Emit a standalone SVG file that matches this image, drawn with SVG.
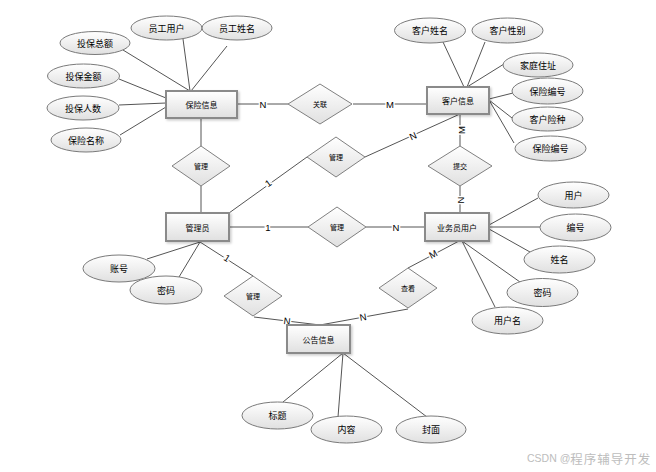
<svg xmlns="http://www.w3.org/2000/svg" width="656" height="472" viewBox="0 0 656 472">
<defs>
<linearGradient id="g" x1="0" y1="0" x2="0" y2="1">
<stop offset="0" stop-color="#ffffff"/>
<stop offset="1" stop-color="#e0e0e0"/>
</linearGradient>
<filter id="sh" x="-20%" y="-20%" width="150%" height="160%">
<feDropShadow dx="1.5" dy="1.5" stdDeviation="1" flood-color="#000" flood-opacity="0.2"/>
</filter>
<style>
.ent{fill:url(#g);stroke:#8a8a8a;stroke-width:2;filter:url(#sh)}
.rel{fill:url(#g);stroke:#808080;stroke-width:1}
.att{fill:url(#g);stroke:#7a7a7a;stroke-width:1}
.ln{stroke:#555;stroke-width:1;fill:none}
text{font-family:"Noto Sans CJK SC","Liberation Sans",sans-serif;fill:#000;text-anchor:middle;dominant-baseline:central}
.te{font-size:8px}
.tr{font-size:7px}
.ta{font-size:9px}
.card{font-family:"Liberation Sans",sans-serif;font-size:9.5px;stroke:#fff;stroke-width:3;paint-order:stroke}
.wm{fill:#bdbdbd;text-anchor:start}
</style>
</defs>
<rect width="656" height="472" fill="#fff"/>
<g id="connectors">
<line class="ln" x1="123" y1="50" x2="190" y2="91"/>
<line class="ln" x1="183" y1="39" x2="190" y2="91"/>
<line class="ln" x1="227" y1="46" x2="191" y2="91"/>
<line class="ln" x1="119" y1="79" x2="166" y2="98"/>
<line class="ln" x1="119" y1="105" x2="166" y2="103"/>
<line class="ln" x1="120" y1="135" x2="166" y2="107"/>
<line class="ln" x1="237" y1="104" x2="288" y2="104"/>
<line class="ln" x1="353" y1="104" x2="427" y2="104"/>
<line class="ln" x1="201" y1="118" x2="201" y2="146"/>
<line class="ln" x1="201" y1="186" x2="201" y2="213"/>
<line class="ln" x1="229" y1="213" x2="307" y2="157"/>
<line class="ln" x1="365" y1="157" x2="460" y2="114"/>
<line class="ln" x1="460" y1="114" x2="460" y2="146"/>
<line class="ln" x1="460" y1="186" x2="460" y2="213"/>
<line class="ln" x1="229" y1="227" x2="308" y2="227"/>
<line class="ln" x1="366" y1="227" x2="425" y2="227"/>
<line class="ln" x1="459" y1="241" x2="408" y2="268"/>
<line class="ln" x1="408" y1="309" x2="320" y2="325"/>
<line class="ln" x1="200" y1="242" x2="253" y2="276"/>
<line class="ln" x1="254" y1="317" x2="320" y2="325"/>
<line class="ln" x1="147" y1="259" x2="200" y2="242"/>
<line class="ln" x1="179" y1="277" x2="200" y2="242"/>
<line class="ln" x1="489" y1="225" x2="538" y2="198"/>
<line class="ln" x1="489" y1="227" x2="540" y2="227"/>
<line class="ln" x1="489" y1="229" x2="530" y2="252"/>
<line class="ln" x1="462" y1="241" x2="520" y2="282"/>
<line class="ln" x1="462" y1="241" x2="495" y2="307"/>
<line class="ln" x1="443" y1="42" x2="464" y2="87"/>
<line class="ln" x1="485" y1="42" x2="467" y2="87"/>
<line class="ln" x1="504" y1="64" x2="467" y2="87"/>
<line class="ln" x1="513" y1="93" x2="489" y2="99"/>
<line class="ln" x1="512" y1="118" x2="489" y2="100"/>
<line class="ln" x1="514" y1="143" x2="489" y2="100"/>
<line class="ln" x1="343" y1="353" x2="283" y2="402"/>
<line class="ln" x1="343" y1="353" x2="338" y2="417"/>
<line class="ln" x1="343" y1="353" x2="427" y2="417"/>
<text class="card" x="263" y="104">N</text>
<text class="card" x="390" y="104">M</text>
<text class="card" transform="translate(268,183) rotate(-36)">1</text>
<text class="card" transform="translate(413,136) rotate(-24)">N</text>
<text class="card" transform="translate(461,130) rotate(-90)">M</text>
<text class="card" transform="translate(460,200) rotate(-90)">N</text>
<text class="card" x="268" y="227">1</text>
<text class="card" x="396" y="227">N</text>
<text class="card" transform="translate(433,254) rotate(-28)">M</text>
<text class="card" transform="translate(363,317) rotate(-10)">N</text>
<text class="card" transform="translate(227,258) rotate(33)">1</text>
<text class="card" transform="translate(287,321) rotate(7)">N</text>
</g>
<g id="entity-baoxian"><rect class="ent" x="166" y="91" width="71" height="27"/><text class="te" x="201.5" y="104.5">保险信息</text></g>
<g id="entity-kehu"><rect class="ent" x="427" y="87" width="62" height="27"/><text class="te" x="458" y="100.5">客户信息</text></g>
<g id="entity-guanliyuan"><rect class="ent" x="166" y="213" width="63" height="28"/><text class="te" x="197.5" y="227">管理员</text></g>
<g id="entity-yewuyuan"><rect class="ent" x="425" y="213" width="64" height="28"/><text class="te" x="457" y="227">业务员用户</text></g>
<g id="entity-gonggao"><rect class="ent" x="287" y="325" width="63" height="28"/><text class="te" x="318.5" y="339">公告信息</text></g>
<g id="rel-guanlian"><polygon class="rel" points="320,84 352,104 320,124 288,104"/><text class="tr" x="320" y="104">关联</text></g>
<g id="rel-guanli-1"><polygon class="rel" points="201,146 230,166 201,186 172,166"/><text class="tr" x="201" y="166">管理</text></g>
<g id="rel-guanli-2"><polygon class="rel" points="336,137 365,157 336,177 307,157"/><text class="tr" x="336" y="157">管理</text></g>
<g id="rel-tijiao"><polygon class="rel" points="460,146 492,166 460,186 428,166"/><text class="tr" x="460" y="166">提交</text></g>
<g id="rel-guanli-3"><polygon class="rel" points="337,207 366,227 337,247 308,227"/><text class="tr" x="337" y="227">管理</text></g>
<g id="rel-chakan"><polygon class="rel" points="408,268 437,288 408,308 379,288"/><text class="tr" x="408" y="288">查看</text></g>
<g id="rel-guanli-4"><polygon class="rel" points="253,276 282,296 253,316 224,296"/><text class="tr" x="253" y="296">管理</text></g>
<g id="attr-toubaozonge"><ellipse class="att" cx="95" cy="43" rx="35" ry="11.5"/><text class="ta" x="95" y="43">投保总额</text></g>
<g id="attr-yuangongyonghu"><ellipse class="att" cx="166.5" cy="28" rx="35.5" ry="12"/><text class="ta" x="166.5" y="28">员工用户</text></g>
<g id="attr-yuangongxingming"><ellipse class="att" cx="237" cy="28" rx="35" ry="12"/><text class="ta" x="237" y="28">员工姓名</text></g>
<g id="attr-toubaojine"><ellipse class="att" cx="83.5" cy="76" rx="36" ry="12"/><text class="ta" x="83.5" y="76">投保金额</text></g>
<g id="attr-toubaorenshu"><ellipse class="att" cx="83" cy="108" rx="36" ry="12"/><text class="ta" x="83" y="108">投保人数</text></g>
<g id="attr-baoxianmingcheng"><ellipse class="att" cx="86" cy="140" rx="35" ry="12"/><text class="ta" x="86" y="140">保险名称</text></g>
<g id="attr-kehuxingming"><ellipse class="att" cx="430" cy="30.5" rx="35.5" ry="12.5"/><text class="ta" x="430" y="30.5">客户姓名</text></g>
<g id="attr-kehuxingbie"><ellipse class="att" cx="507.5" cy="30.5" rx="35.5" ry="12.5"/><text class="ta" x="507.5" y="30.5">客户性别</text></g>
<g id="attr-jiatingzhuzhi"><ellipse class="att" cx="538" cy="65" rx="35" ry="12"/><text class="ta" x="538" y="65">家庭住址</text></g>
<g id="attr-baoxianbianhao-1"><ellipse class="att" cx="547.5" cy="91" rx="35.5" ry="13"/><text class="ta" x="547.5" y="91">保险编号</text></g>
<g id="attr-kehuxianzhong"><ellipse class="att" cx="547.5" cy="119" rx="35.5" ry="12"/><text class="ta" x="547.5" y="119">客户险种</text></g>
<g id="attr-baoxianbianhao-2"><ellipse class="att" cx="550.5" cy="148.5" rx="35.5" ry="12.5"/><text class="ta" x="550.5" y="148.5">保险编号</text></g>
<g id="attr-zhanghao"><ellipse class="att" cx="119" cy="268.5" rx="36" ry="13.5"/><text class="ta" x="119" y="268.5">账号</text></g>
<g id="attr-mima-1"><ellipse class="att" cx="166" cy="290" rx="36" ry="14"/><text class="ta" x="166" y="290">密码</text></g>
<g id="attr-yonghu"><ellipse class="att" cx="573.5" cy="195" rx="35.5" ry="13"/><text class="ta" x="573.5" y="195">用户</text></g>
<g id="attr-bianhao"><ellipse class="att" cx="575.5" cy="227.5" rx="35.5" ry="13.5"/><text class="ta" x="575.5" y="227.5">编号</text></g>
<g id="attr-xingming"><ellipse class="att" cx="559.5" cy="259.5" rx="35.5" ry="13.5"/><text class="ta" x="559.5" y="259.5">姓名</text></g>
<g id="attr-mima-2"><ellipse class="att" cx="542.5" cy="292.5" rx="35.5" ry="14"/><text class="ta" x="542.5" y="292.5">密码</text></g>
<g id="attr-yonghuming"><ellipse class="att" cx="507.5" cy="320.5" rx="35.5" ry="13.5"/><text class="ta" x="507.5" y="320.5">用户名</text></g>
<g id="attr-biaoti"><ellipse class="att" cx="277.5" cy="415.5" rx="35.5" ry="13.5"/><text class="ta" x="277.5" y="415.5">标题</text></g>
<g id="attr-neirong"><ellipse class="att" cx="346.5" cy="429.5" rx="35.5" ry="13.5"/><text class="ta" x="346.5" y="429.5">内容</text></g>
<g id="attr-fengmian"><ellipse class="att" cx="431" cy="429.5" rx="35" ry="13.5"/><text class="ta" x="431" y="429.5">封面</text></g>
<text class="wm" x="527" y="458"><tspan font-family="Liberation Sans, sans-serif" font-size="10.5">CSDN @</tspan><tspan font-size="12.5" letter-spacing="1">程序辅导开发</tspan></text>
</svg>
